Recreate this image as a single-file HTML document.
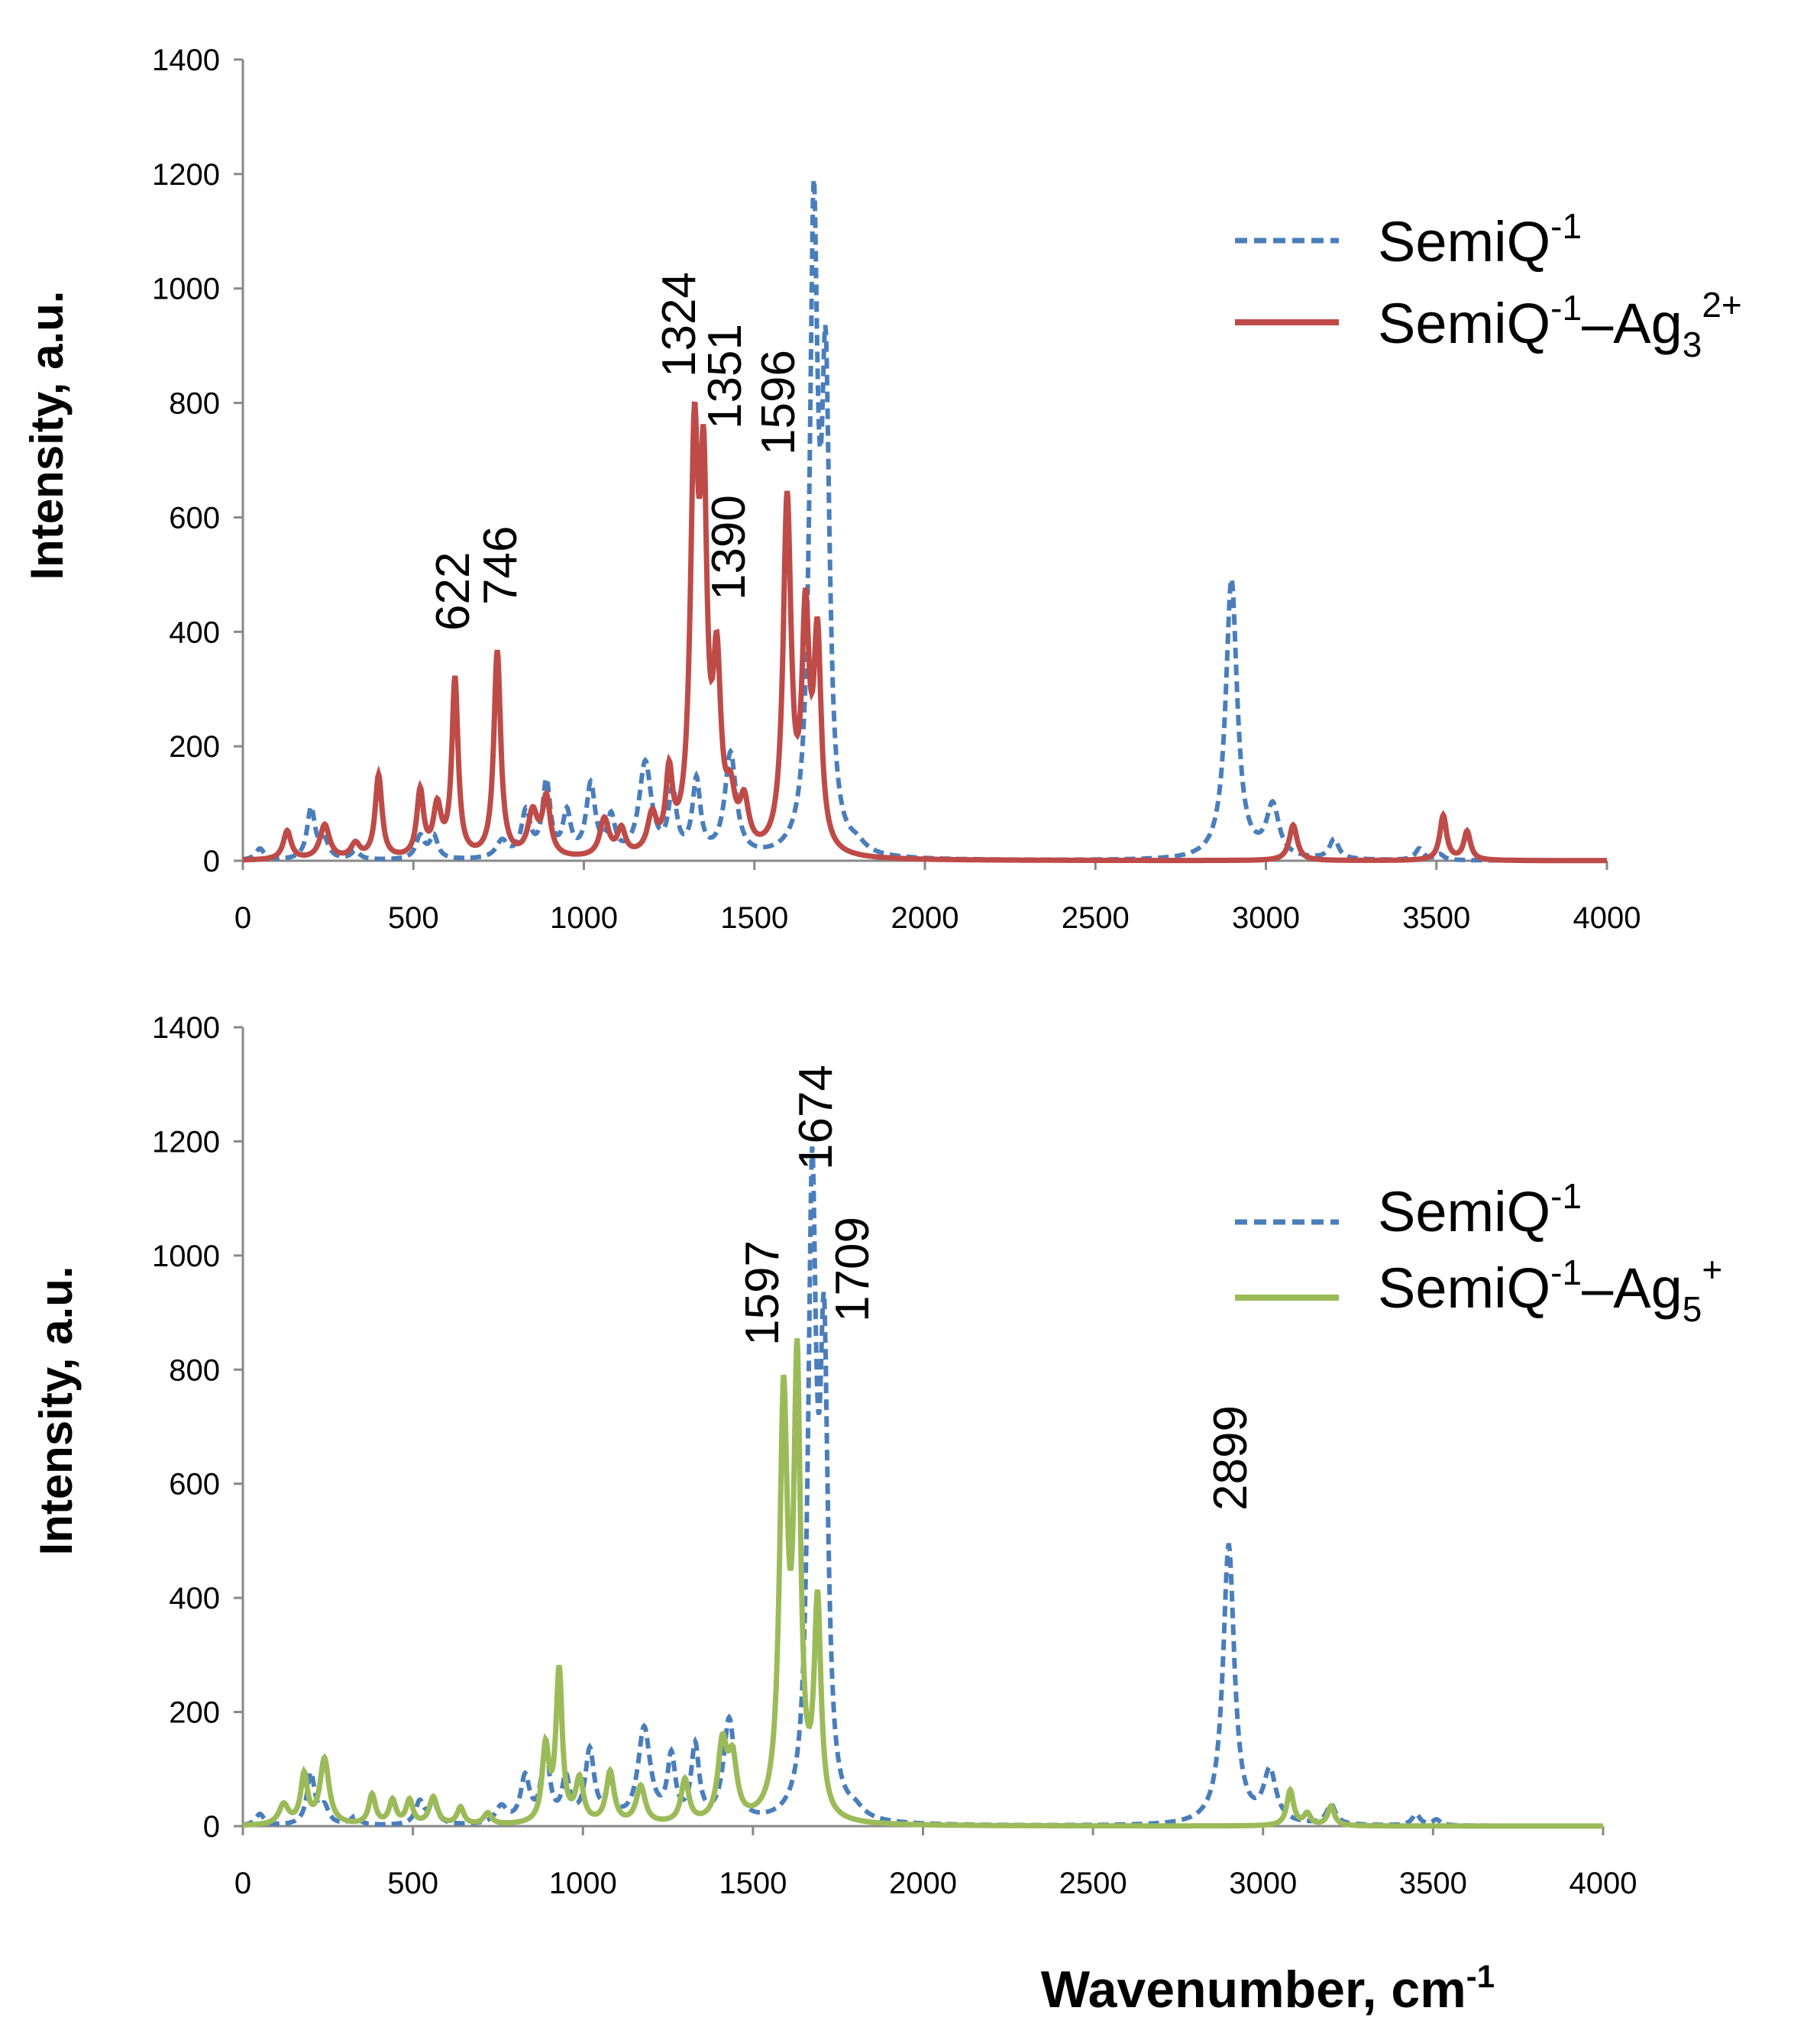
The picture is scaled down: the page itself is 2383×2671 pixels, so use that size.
<!DOCTYPE html>
<html><head><meta charset="utf-8"><style>
html,body{margin:0;padding:0;background:#fff;}
svg{display:block;font-family:"Liberation Sans",sans-serif;}
</style></head><body>
<svg id="s" width="2383" height="2671" viewBox="0 0 2383 2671" xmlns="http://www.w3.org/2000/svg"></svg>
<script>
const S=document.getElementById('s');let h='';
const blue=[[50,20,15],[200,90,14],[240,30,15],[330,15,15],[520,40,15],[560,40,14],[760,30,20],[830,80,16],[890,130,14],[950,75,14],[1020,125,16],[1080,65,14],[1180,165,22],[1260,110,14],[1330,130,14],[1430,180,20],[1674,1080,14],[1709,780,14],[1800,15,30],[2899,490,20],[3020,90,22],[3200,35,16],[3450,20,14],[3510,10,14]];
const red=[[130,50,14],[240,60,17],[330,25,16],[398,145,12],[520,115,12],[570,85,14],[622,310,11],[746,360,12],[850,75,17],[890,100,14],[1060,65,16],[1110,45,14],[1200,65,16],[1250,130,12],[1324,680,14],[1351,570,12],[1390,300,14],[1430,80,16],[1470,80,16],[1596,610,14],[1650,390,13],[1685,360,13],[3080,62,14],[3520,78,12],[3590,50,12]];
const green=[[120,35,17],[180,85,12],[240,115,16],[380,52,12],[440,42,12],[490,42,12],[560,48,14],[640,30,12],[720,20,14],[890,130,12],[930,265,11],[990,75,14],[1080,90,14],[1170,65,16],[1300,75,14],[1410,130,16],[1440,100,16],[1590,720,14],[1630,760,12],[1690,370,12],[3080,62,12],[3130,20,12],[3200,34,12]];
function f(pk,x){let s=0;for(const[p,a,g]of pk){s+=a*g*g/((x-p)*(x-p)+g*g);}return s;}
function path(pk,X0,X1,Y0,Y1){let d='';for(let x=0;x<=4000;x+=2){const px=X0+(X1-X0)*x/4000;const py=Y0+(Y1-Y0)*Math.min(f(pk,x),1400)/1400;d+=(x?'L':'M')+px.toFixed(1)+' '+py.toFixed(1);}return d;}
function axes(X0,X1,Y0,Y1){let o=`<line x1="${X0}" y1="${Y1}" x2="${X0}" y2="${Y0}" stroke="#888" stroke-width="3"/><line x1="${X0}" y1="${Y0}" x2="${X1}" y2="${Y0}" stroke="#888" stroke-width="3"/>`;
for(let v=0;v<=1400;v+=200){const y=Y0+(Y1-Y0)*v/1400;o+=`<line x1="${X0-12}" y1="${y}" x2="${X0}" y2="${y}" stroke="#888" stroke-width="3"/><text x="${X0-30}" y="${y+14}" font-size="40" text-anchor="end">${v}</text>`;}
for(let v=0;v<=4000;v+=500){const x=X0+(X1-X0)*v/4000;o+=`<line x1="${x}" y1="${Y0}" x2="${x}" y2="${Y0+12}" stroke="#888" stroke-width="3"/><text x="${x}" y="${Y0+88}" font-size="40" text-anchor="middle">${v}</text>`;}return o;}
function rot(t,cx,by){return `<text transform="translate(${cx+22},${by}) rotate(-90)" font-size="62">${t}</text>`;}
// top
let X0=318,X1=2104,Y0=1127,Y1=78;
h+=axes(X0,X1,Y0,Y1);
h+=`<path d="${path(blue,X0,X1,Y0,Y1)}" fill="none" stroke="#4a7ebb" stroke-width="6" stroke-dasharray="14,8"/>`;
h+=`<path d="${path(red,X0,X1,Y0,Y1)}" fill="none" stroke="#be4b48" stroke-width="7"/>`;
h+=`<text transform="translate(82,570) rotate(-90)" font-size="60" font-weight="bold" text-anchor="middle">Intensity, a.u.</text>`;
h+=rot('622',592,826)+rot('746',654,792)+rot('1324',888,494)+rot('1351',948,562)+rot('1390',953,786)+rot('1596',1018,596);
h+=`<line x1="1617" y1="315" x2="1753" y2="315" stroke="#4a7ebb" stroke-width="7" stroke-dasharray="16,9"/><line x1="1617" y1="422" x2="1753" y2="422" stroke="#be4b48" stroke-width="8"/>`;
h+=`<text x="1804" y="342" font-size="74">SemiQ<tspan font-size="46" dy="-30">-1</tspan></text>`;
h+=`<text x="1804" y="449" font-size="74">SemiQ<tspan font-size="46" dy="-30">-1</tspan><tspan dy="30">–Ag</tspan><tspan font-size="46" dy="18">3</tspan><tspan font-size="46" dy="-52">2+</tspan></text>`;
// bottom
X0=318;X1=2099;Y0=2391;Y1=1345;
h+=axes(X0,X1,Y0,Y1);
h+=`<path d="${path(blue,X0,X1,Y0,Y1)}" fill="none" stroke="#4a7ebb" stroke-width="6" stroke-dasharray="14,8"/>`;
h+=`<path d="${path(green,X0,X1,Y0,Y1)}" fill="none" stroke="#9bbb59" stroke-width="7"/>`;
h+=`<text transform="translate(94,1847) rotate(-90)" font-size="60" font-weight="bold" text-anchor="middle">Intensity, a.u.</text>`;
h+=rot('1597',997,1762)+rot('1674',1067,1532)+rot('1709',1115,1731)+rot('2899',1610,1978);
h+=`<line x1="1617" y1="1600" x2="1753" y2="1600" stroke="#4a7ebb" stroke-width="7" stroke-dasharray="16,9"/><line x1="1617" y1="1699" x2="1753" y2="1699" stroke="#9bbb59" stroke-width="8"/>`;
h+=`<text x="1804" y="1612" font-size="74">SemiQ<tspan font-size="46" dy="-30">-1</tspan></text>`;
h+=`<text x="1804" y="1712" font-size="74">SemiQ<tspan font-size="46" dy="-30">-1</tspan><tspan dy="30">–Ag</tspan><tspan font-size="46" dy="18">5</tspan><tspan font-size="46" dy="-52">+</tspan></text>`;
h+=`<text x="1660" y="2628" font-size="68" font-weight="bold" text-anchor="middle">Wavenumber, cm<tspan font-size="42" dy="-26">-1</tspan></text>`;
S.innerHTML=h;
</script>
</body></html>
